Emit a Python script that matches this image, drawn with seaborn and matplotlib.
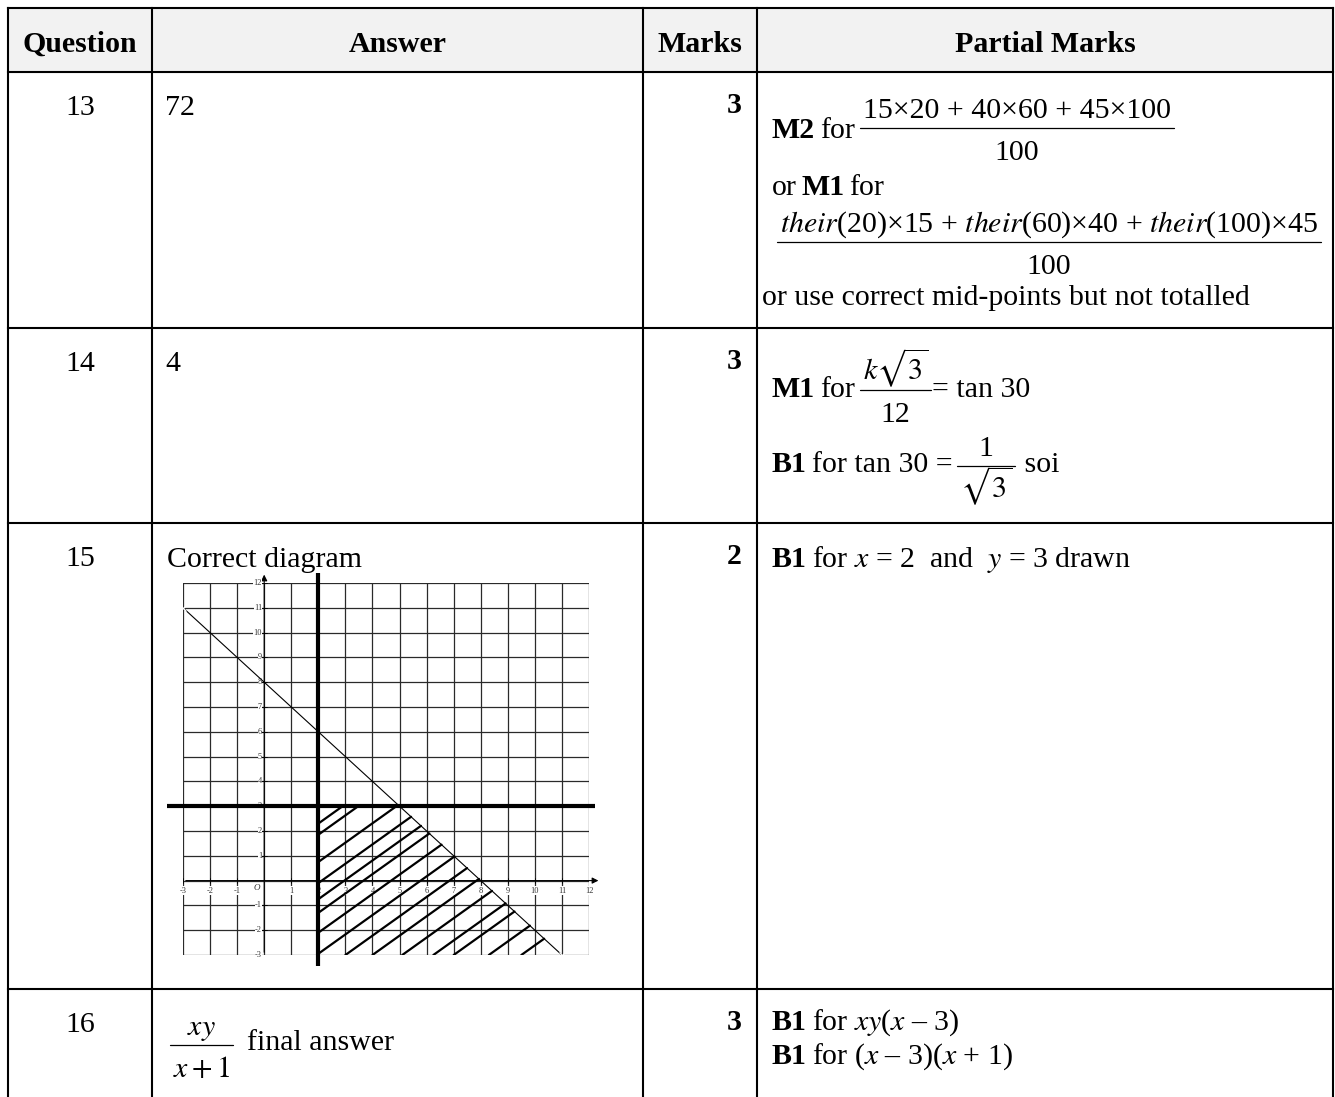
import numpy as np
import matplotlib
matplotlib.use("Agg")
import matplotlib.pyplot as plt
import seaborn as sns

W, H = 1335, 1097

# --- table content ---
headers = ["Question", "Answer", "Marks", "Partial Marks"]
questions = ["13", "14", "15", "16"]
answers = ["72", "4", "Correct diagram", "final answer"]
marks = ["3", "3", "2", "3"]

# --- Q15 diagram data ---
grid_x = np.arange(-3, 13)
grid_y = np.arange(-3, 13)
line_x = [-3, 11]          # x + y = 8, drawn between the two crosses
line_y = [11, -3]
x_bound = 2                # x = 2 (thick)
y_bound = 3                # y = 3 (thick)
x_bound_span = [-3.45, 12.4]
y_bound_span = [-3.6, 12.22]
hatch_left_y = [2.3, 1.85, 0.75, -0.1, -0.75, -1.3, -2.1, -2.95]
hatch_bottom_x = [3.0, 4.0, 5.1, 6.25, 7.0, 8.3, 9.5]
hatch_slope = 0.78

# --- layout (px) ---
col_edges = [8, 152, 643, 757, 1333]
row_edges = [7.5, 72, 328, 523, 989]
FS = 21.5

sns.set_theme(style="white")
plt.rcParams["font.family"] = ["Liberation Serif", "DejaVu Serif"]
plt.rcParams["mathtext.fontset"] = "stix"
plt.rcParams["text.color"] = "black"

fig = plt.figure(figsize=(W / 100, H / 100), dpi=100)
ax = fig.add_axes([0, 0, 1, 1])
ax.set_xlim(0, W)
ax.set_ylim(H, 0)
ax.axis("off")
renderer = fig.canvas.get_renderer()


def width_of(t):
    return t.get_window_extent(renderer).width


def frac(x, ybar, num, den, size=FS, pad=3):
    px = size * 100 / 72
    t1 = ax.text(x, ybar - 0.33 * px, num, fontsize=size, ha="center", va="baseline")
    t2 = ax.text(x, ybar + 1.08 * px, den, fontsize=size, ha="center", va="baseline")
    w = max(width_of(t1), width_of(t2)) + 2 * pad
    t1.set_x(x + w / 2)
    t2.set_x(x + w / 2)
    ax.plot([x, x + w], [ybar, ybar], color="black", lw=0.9)
    return w


def run(x, y, parts, size=FS):
    # parts: ("b", text) bold, ("r", text) regular, ("f", num, den, ybar) fraction
    sp = size * 100 / 72 * 0.16
    for p in parts:
        if p[0] == "f":
            x += frac(x, p[3], p[1], p[2], size) + sp * 0.3
            continue
        t = ax.text(x, y, p[1], fontsize=size, va="baseline",
                    fontweight="bold" if p[0] == "b" else "normal")
        x += width_of(t) + sp


# header band
ax.fill_between([col_edges[0], col_edges[-1]], row_edges[0], row_edges[1],
                color="#f2f2f2", zorder=0)
hdr_centers = [(a + b) / 2 for a, b in zip(col_edges[:-1], col_edges[1:])]
for cx, h in zip(hdr_centers, headers):
    ax.text(cx, 52, h, fontsize=FS, fontweight="bold", ha="center", va="baseline")

# grid lines of the table
for yv in row_edges:
    ax.plot([col_edges[0], col_edges[-1]], [yv, yv], color="black", lw=1.5,
            solid_capstyle="projecting")
for xv in col_edges:
    ax.plot([xv, xv], [row_edges[0], H], color="black", lw=1.5,
            solid_capstyle="projecting")

# question numbers and marks
for top, q, m in zip(row_edges[1:], questions, marks):
    ax.text(hdr_centers[0], top + 43, q, fontsize=FS, ha="center", va="baseline")
    ax.text(col_edges[3] - 15, top + 41, m, fontsize=FS, fontweight="bold",
            ha="right", va="baseline")

# answers
ax.text(165, 115, answers[0], fontsize=FS, va="baseline")
ax.text(165, 371, answers[1], fontsize=FS, va="baseline")
ax.text(167, 567, answers[2], fontsize=FS, va="baseline")
wf = frac(170, 1045, r"$xy$", r"$x+1$")
ax.text(170 + wf + 14, 1050, answers[3], fontsize=FS, va="baseline")

# partial marks
PX = 772
run(PX, 138, [("b", "M2"), ("r", "for"),
              ("f", "15×20 + 40×60 + 45×100", "100", 128)])
run(PX, 195, [("r", "or"), ("b", "M1"), ("r", "for")])
frac(777, 242,
     r"$\mathit{their}$(20)×15 + $\mathit{their}$(60)×40 + $\mathit{their}$(100)×45",
     "100")
ax.text(PX - 10, 305, "or use correct mid-points but not totalled", fontsize=FS, va="baseline")

run(PX, 397, [("b", "M1"), ("r", "for"), ("f", r"$k\sqrt{3}$", "12", 390),
              ("r", "= tan 30")])
run(PX, 472, [("b", "B1"), ("r", "for tan 30 ="), ("f", "1", r"$\sqrt{3}$", 466),
              ("r", " soi")])

run(PX, 567, [("b", "B1"), ("r", r"for $x$ = 2  and  $y$ = 3 drawn")])

run(PX, 1030, [("b", "B1"), ("r", r"for $xy$($x$ – 3)")])
run(PX, 1064, [("b", "B1"), ("r", r"for ($x$ – 3)($x$ + 1)")])

# --- Q15 diagram ---
gx0, gx1 = 183, 589
gy0, gy1 = 583, 955
gax = fig.add_axes([gx0 / W, 1 - gy1 / H, (gx1 - gx0) / W, (gy1 - gy0) / H])
gax.patch.set_alpha(0)

for v in grid_x:
    gax.plot([v, v], [grid_y[0], grid_y[-1]], color="#2a2a2a", lw=0.9, zorder=1)
for v in grid_y:
    gax.plot([grid_x[0], grid_x[-1]], [v, v], color="#2a2a2a", lw=0.9, zorder=1)

arrow = dict(arrowstyle="-|>", color="black", lw=0.8, mutation_scale=9)
gax.annotate("", xy=(12.45, 0), xytext=(grid_x[0], 0), arrowprops=arrow,
             annotation_clip=False, zorder=2)
gax.annotate("", xy=(0, 12.45), xytext=(0, grid_y[0]), arrowprops=arrow,
             annotation_clip=False, zorder=2)

for v in grid_y:
    if v == 0:
        continue
    gax.plot([-0.1, 0.1], [v, v], color="black", lw=0.6, zorder=2)
    gax.text(-0.08, v, str(v), fontsize=6, ha="right", va="center", color="#333333",
             zorder=2, bbox=dict(facecolor="white", edgecolor="none", pad=0.2))
for v in grid_x:
    if v == 0:
        continue
    gax.plot([v, v], [-0.1, 0.1], color="black", lw=0.6, zorder=2)
    gax.text(v, -0.4, str(v), fontsize=6, ha="center", va="center", color="#333333",
             zorder=2, bbox=dict(facecolor="white", edgecolor="none", pad=0.2))
gax.text(-0.28, -0.28, "O", fontsize=6.5, style="italic", ha="center", va="center",
         color="#333333", zorder=2)

sns.lineplot(x=line_x, y=line_y, ax=gax, color="black", lw=0.8, marker="x",
             markersize=5, markeredgewidth=0.8, zorder=3)

# hatching inside x >= 2, y <= 3, x + y <= 8
starts = [(x_bound, yv) for yv in hatch_left_y] + [(xv, grid_y[0]) for xv in hatch_bottom_x]
for x0, y0 in starts:
    x_top = x0 + (y_bound - y0) / hatch_slope
    x_diag = (8 - y0 + hatch_slope * x0) / (1 + hatch_slope)
    x_end = min(x_top, x_diag)
    gax.plot([x0, x_end], [y0, y0 + hatch_slope * (x_end - x0)], color="black",
             lw=1.6, zorder=3)

gax.plot([x_bound, x_bound], x_bound_span, color="black", lw=3, clip_on=False,
         solid_capstyle="butt", zorder=4)
gax.plot(y_bound_span, [y_bound, y_bound], color="black", lw=3, clip_on=False,
         solid_capstyle="butt", zorder=4)

gax.set_xlim(grid_x[0], grid_x[-1])
gax.set_ylim(grid_y[0], grid_y[-1])
gax.axis("off")

fig.savefig("out.png", dpi=100)
